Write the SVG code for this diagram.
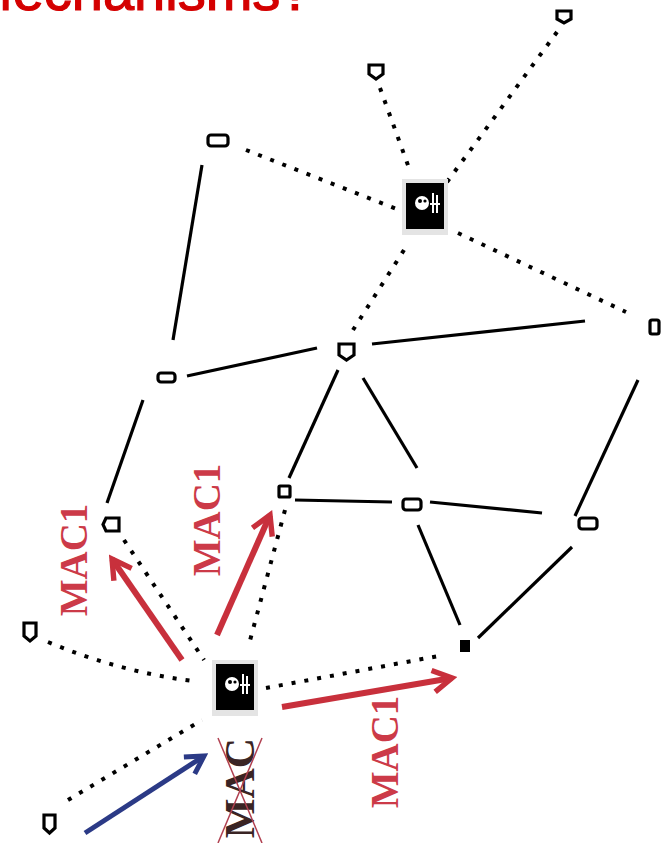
<svg xmlns="http://www.w3.org/2000/svg" width="662" height="843" viewBox="0 0 662 843">
<style>
.title{font-family:"Liberation Sans",sans-serif;font-size:56px;fill:#d40000;stroke:#d40000;stroke-width:1.2}
.node{fill:#fff;stroke:#000;stroke-width:3.2}
.dot{stroke:#000;stroke-width:4;stroke-dasharray:4 9;fill:none}
.solid{stroke:#000;stroke-width:3.2;fill:none}
.red{stroke:#c8303c;stroke-width:6;fill:none;marker-end:url(#rh)}
.blue{stroke:#2b3a86;stroke-width:5;fill:none;marker-end:url(#bh)}
.lbl{font-family:"Liberation Serif",serif;font-weight:bold;font-size:39px;fill:#cc3a48;text-anchor:middle}
.mac{font-family:"Liberation Serif",serif;font-weight:bold;font-size:42px;fill:#3a2424;text-anchor:middle}
.halo{fill:#e4e4e4}
.sk{fill:#000}
.skw{fill:#fff}
</style>
<defs>
<marker id="rh" viewBox="0 0 10 10" refX="8" refY="5" markerWidth="4.5" markerHeight="4.5" orient="auto" markerUnits="strokeWidth">
<polyline points="1,1 8,5 1,9" fill="none" stroke="#c8303c" stroke-width="2"/>
</marker>
<marker id="bh" viewBox="0 0 10 10" refX="8" refY="5" markerWidth="5" markerHeight="5" orient="auto" markerUnits="strokeWidth">
<polyline points="1,1 8,5 1,9" fill="none" stroke="#2b3a86" stroke-width="2"/>
</marker>
<g id="skull">
<rect class="halo" x="-23" y="-28" width="46" height="56"/>
<rect class="sk" x="-19" y="-24" width="38" height="46"/>
<circle class="skw" cx="-3" cy="-4" r="7"/>
<circle class="sk" cx="-5" cy="-6" r="2"/>
<circle class="sk" cx="0" cy="-6" r="1.6"/>
<rect class="skw" x="7" y="-14" width="2" height="20"/>
<rect class="skw" x="11" y="-12" width="2" height="18"/>
<rect class="skw" x="5" y="-4" width="10" height="2"/>
</g>
</defs>
<rect width="662" height="843" fill="#fff"/>
<text class="title" x="-34" y="10">Mechanisms?</text>

<g id="connectors">
<line class="dot" x1="557" y1="32" x2="447" y2="182"/>
<line class="dot" x1="380" y1="88" x2="409" y2="168"/>
<line class="dot" x1="246" y1="150" x2="399" y2="210"/>
<line class="dot" x1="458" y1="233" x2="626" y2="312"/>
<line class="dot" x1="404" y1="250" x2="353" y2="330"/>
<path class="dot" d="M48,642 Q120,672 193,681"/>
<line class="dot" x1="124" y1="540" x2="204" y2="660"/>
<line class="dot" x1="285" y1="510" x2="248" y2="648"/>
<line class="dot" x1="266" y1="688" x2="444" y2="655"/>
<line class="dot" x1="68" y1="800" x2="202" y2="720"/>

<line class="solid" x1="202" y1="165" x2="173" y2="340"/>
<line class="solid" x1="187" y1="376" x2="317" y2="348"/>
<line class="solid" x1="372" y1="344" x2="585" y2="321"/>
<line class="solid" x1="143" y1="400" x2="107" y2="503"/>
<line class="solid" x1="338" y1="370" x2="289" y2="478"/>
<line class="solid" x1="363" y1="378" x2="417" y2="468"/>
<line class="solid" x1="295" y1="500" x2="392" y2="502"/>
<line class="solid" x1="430" y1="502" x2="542" y2="513"/>
<line class="solid" x1="638" y1="380" x2="575" y2="516"/>
<line class="solid" x1="418" y1="525" x2="460" y2="625"/>
<line class="solid" x1="572" y1="547" x2="478" y2="638"/>

<line class="red" x1="182" y1="660" x2="112" y2="559"/>
<line class="red" x1="217" y1="635" x2="270" y2="515"/>
<line class="red" x1="282" y1="707" x2="452" y2="678"/>
<line class="blue" x1="85" y1="833" x2="204" y2="756"/>
</g>

<g id="n1"><path class="node" d="M557,11 h14 v8 l-7,4 l-7,-4 z"/></g>
<g id="n2"><path class="node" d="M369,65 h14 v9 l-7,5 l-7,-5 z"/></g>
<g id="n3"><rect class="node" x="208" y="135" width="20" height="11" rx="3"/></g>
<g id="skull1"><use href="#skull" x="425" y="207"/></g>
<g id="n5"><rect class="node" x="650" y="320" width="9" height="14" rx="2"/></g>
<g id="n6"><path class="node" d="M339,344 h15 v11 l-7.5,5 l-7.5,-5 z"/></g>
<g id="n7"><rect class="node" x="158" y="373" width="17" height="9" rx="3"/></g>
<g id="n8"><path class="node" d="M106,518 h13 v13 h-13 l-3,-6.5 z"/></g>
<g id="n9"><rect class="node" x="279" y="486" width="11" height="11" rx="1"/></g>
<g id="n10"><rect class="node" x="403" y="499" width="18" height="11" rx="3"/></g>
<g id="n11"><rect class="node" x="579" y="518" width="18" height="11" rx="3"/></g>
<g id="n12"><rect x="460" y="640" width="10" height="12" fill="#000"/></g>
<g id="n13"><path class="node" d="M24,623 h12 v13 l-6,5 l-6,-5 z"/></g>
<g id="skull2"><use href="#skull" x="235" y="688"/></g>
<g id="n15"><path class="node" d="M44,815 h11 v13 l-5.5,5 l-5.5,-5 z"/></g>

<g id="labels">
<text class="lbl" transform="translate(87,560) rotate(-90)">MAC1</text>
<text class="lbl" transform="translate(220,520) rotate(-90)">MAC1</text>
<text class="lbl" transform="translate(398,752) rotate(-90)">MAC1</text>
<text class="mac" transform="translate(254,788) rotate(-90)">MAC</text>
<line x1="218" y1="738" x2="262" y2="843" stroke="#b04050" stroke-width="1.5"/>
<line x1="262" y1="738" x2="218" y2="843" stroke="#b04050" stroke-width="1.5"/>
</g>
</svg>
